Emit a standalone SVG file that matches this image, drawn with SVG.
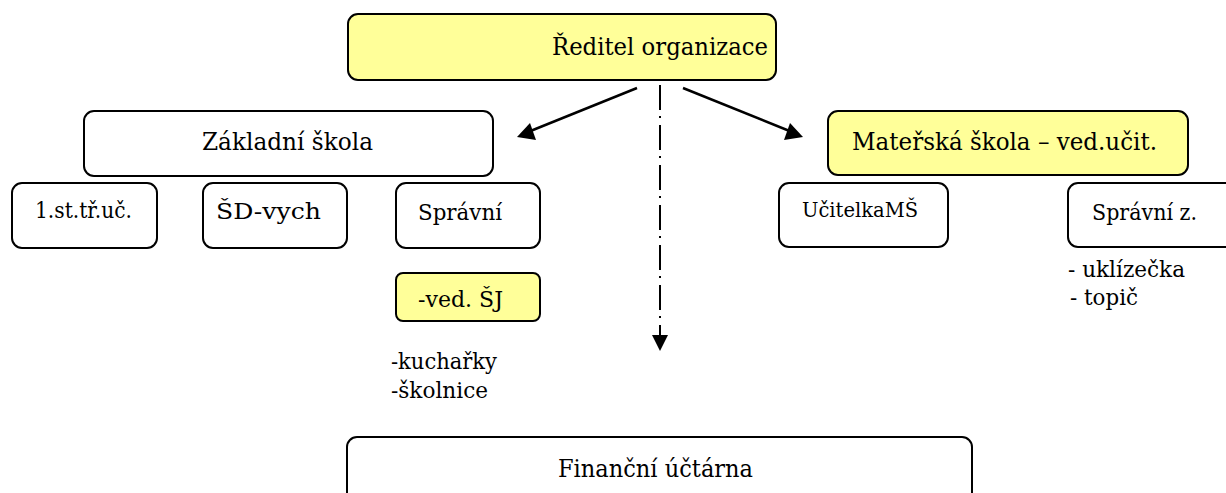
<svg xmlns="http://www.w3.org/2000/svg" width="1226" height="493" viewBox="0 0 1226 493">
<style>
.box{fill:#ffffff;stroke:#000;stroke-width:2}
.yel{fill:#ffff99;stroke:#000;stroke-width:2}
text{font-family:'DejaVu Serif','Liberation Serif',serif;fill:#000}
.big{font-size:25px}
.sm{font-size:23px}
.xs{font-size:20px}
.con{stroke:#000;stroke-width:2.5;fill:none}
</style>
<rect width="1226" height="493" fill="#fff"/>
<g id="connectors">
<line class="con" x1="637" y1="88" x2="528" y2="132"/>
<polygon points="517,137 530,123 536,140" fill="#000"/>
<line class="con" x1="683" y1="88" x2="792" y2="132"/>
<polygon points="803,137 790,123 784,140" fill="#000"/>
<line x1="660" y1="85" x2="660" y2="336" stroke="#000" stroke-width="2" stroke-dasharray="25 6 2 7"/>
<polygon points="652,335 668,335 660,351" fill="#000"/>
</g>
<g id="n-reditel">
<rect class="yel" x="348" y="14" width="428" height="66" rx="10"/>
<text class="big" x="552" y="55" textLength="216" lengthAdjust="spacingAndGlyphs">Ředitel organizace</text>
</g>
<g id="n-zs">
<rect class="box" x="84" y="111" width="409" height="65" rx="10"/>
<text class="big" x="202" y="150" textLength="171" lengthAdjust="spacingAndGlyphs">Základní škola</text>
</g>
<g id="n-ms">
<rect class="yel" x="828" y="111" width="360" height="64" rx="10"/>
<text class="big" x="852" y="150" textLength="305" lengthAdjust="spacingAndGlyphs">Mateřská škola – ved.učit.</text>
</g>
<g id="n-1st">
<rect class="box" x="12" y="183" width="145" height="65" rx="10"/>
<text class="sm" x="35" y="218" font-size="24" textLength="97" lengthAdjust="spacingAndGlyphs">1.st.tř.uč.</text>
</g>
<g id="n-sd">
<rect class="box" x="203" y="183" width="144" height="65" rx="10"/>
<text class="sm" x="216" y="219" textLength="105" lengthAdjust="spacingAndGlyphs">ŠD-vych</text>
</g>
<g id="n-spravni">
<rect class="box" x="396" y="183" width="144" height="65" rx="10"/>
<text class="sm" x="418" y="220" textLength="84" lengthAdjust="spacingAndGlyphs">Správní</text>
</g>
<g id="n-vedsj">
<rect class="yel" x="396" y="273" width="144" height="48" rx="7"/>
<text class="sm" x="418" y="307" textLength="85" lengthAdjust="spacingAndGlyphs">-ved. ŠJ</text>
</g>
<g id="n-kuch">
<text class="sm" x="391" y="369" textLength="106" lengthAdjust="spacingAndGlyphs">-kuchařky</text>
<text class="sm" x="391" y="398" textLength="97" lengthAdjust="spacingAndGlyphs">-školnice</text>
</g>
<g id="n-ucitelka">
<rect class="box" x="779" y="183" width="169" height="64" rx="10"/>
<text class="xs" x="802" y="217" textLength="116" lengthAdjust="spacingAndGlyphs">UčitelkaMŠ</text>
</g>
<g id="n-spravniz">
<rect class="box" x="1068" y="183" width="170" height="64" rx="10"/>
<text class="sm" x="1092" y="220" textLength="105" lengthAdjust="spacingAndGlyphs">Správní z.</text>
</g>
<g id="n-ukl">
<text class="sm" x="1068" y="277" textLength="117" lengthAdjust="spacingAndGlyphs">- uklízečka</text>
<text class="sm" x="1070" y="305" textLength="68" lengthAdjust="spacingAndGlyphs">- topič</text>
</g>
<g id="n-fin">
<rect class="box" x="347" y="437" width="625" height="80" rx="10"/>
<text class="big" x="558" y="477" textLength="195" lengthAdjust="spacingAndGlyphs">Finanční účtárna</text>
</g>
</svg>
